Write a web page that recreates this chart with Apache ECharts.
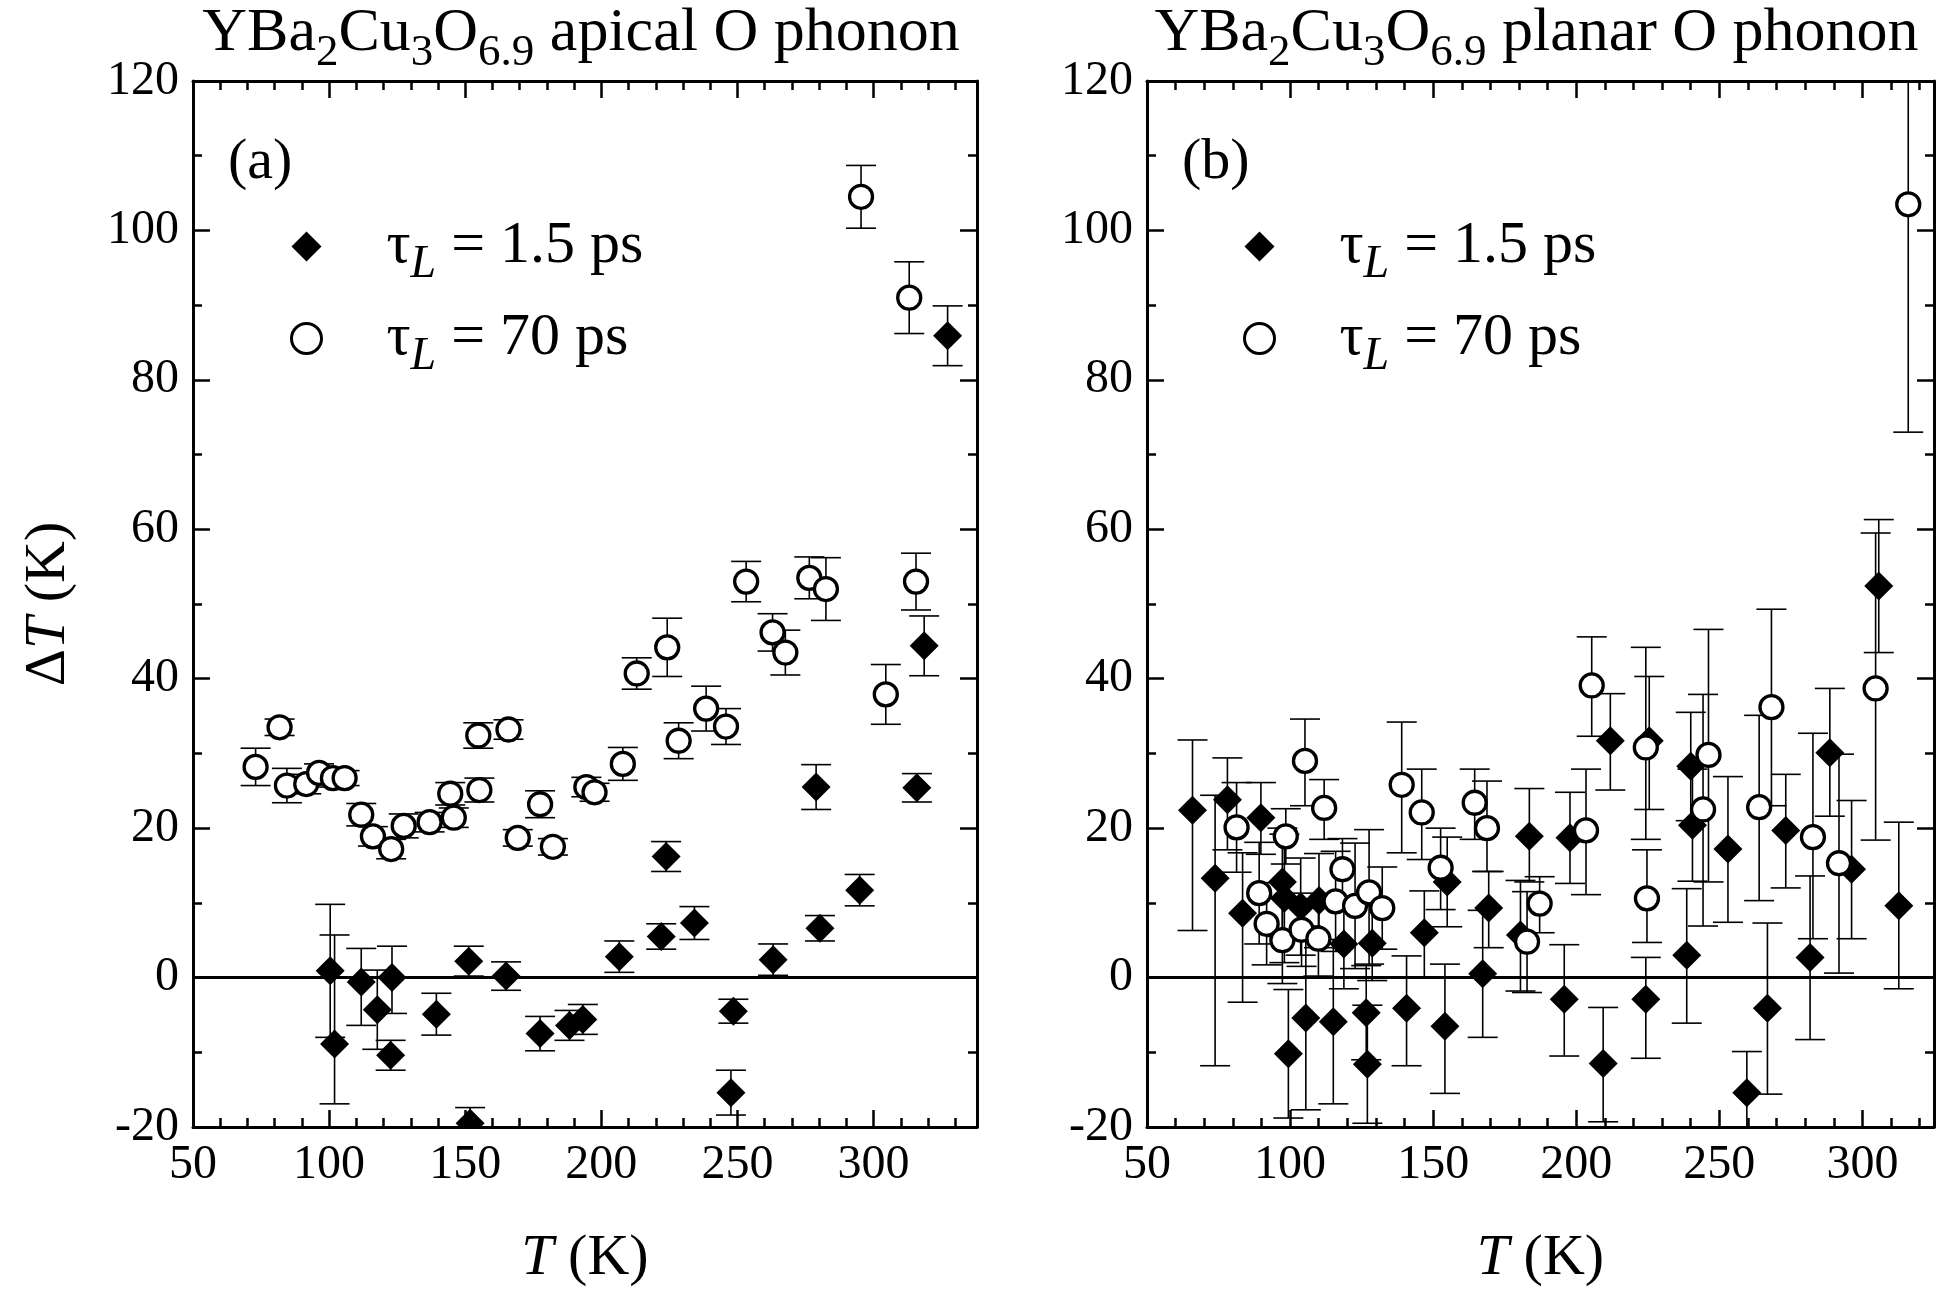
<!DOCTYPE html>
<html>
<head>
<meta charset="utf-8">
<title>YBa2Cu3O6.9 phonon temperature</title>
<script src="https://cdn.jsdelivr.net/npm/echarts@6/dist/echarts.min.js"></script>
<style>
  html, body { margin: 0; padding: 0; background: #fff; }
  #chart { width: 1937px; height: 1294px; }
</style>
</head>
<body>
<div id="chart"></div>
<script>
// rows: [T (K), ΔT (K), ΔT lower end of bar, ΔT upper end of bar]
const apicalShort = [
  [100.4, 0.9, -8.0, 9.8], [102.0, -8.9, -16.9, 5.7], [111.8, -0.6, -6.4, 3.9],
  [117.7, -4.3, -9.6, 1.0], [123.1, 0.0, -4.8, 4.2], [122.6, -10.4, -12.4, -8.4],
  [139.4, -4.9, -7.7, -2.1], [151.3, 2.2, 0.2, 4.2], [151.8, -19.5, -21.5, -17.4],
  [165.0, 0.2, -1.7, 2.1], [177.5, -7.5, -9.8, -5.2], [188.3, -6.4, -8.4, -4.4],
  [193.2, -5.6, -7.6, -3.6], [206.6, 2.8, 0.7, 4.9], [222.0, 5.5, 3.8, 7.2],
  [223.8, 16.2, 14.2, 18.2], [234.2, 7.3, 5.1, 9.5], [247.6, -15.4, -18.4, -12.4],
  [248.5, -4.5, -6.1, -2.9], [263.1, 2.4, 0.3, 4.5], [278.9, 25.5, 22.5, 28.5],
  [280.3, 6.6, 4.9, 8.3], [294.9, 11.7, 9.6, 13.8], [315.9, 25.4, 23.5, 27.3],
  [318.6, 44.4, 40.4, 48.4], [327.2, 85.9, 81.9, 89.9]
]

const apicalLong = [
  [73.0, 28.2, 25.7, 30.7], [81.8, 33.5, 32.4, 34.6], [84.5, 25.7, 23.4, 28.0],
  [91.6, 25.9, 24.6, 27.2], [96.3, 27.4, 26.2, 28.6], [101.4, 26.7, 25.5, 27.9],
  [105.7, 26.7, 25.7, 27.7], [111.8, 21.8, 20.3, 23.3], [116.1, 18.9, 17.6, 20.2],
  [122.8, 17.2, 15.9, 18.5], [127.4, 20.3, 18.7, 21.9], [136.9, 20.8, 19.5, 22.1],
  [144.5, 24.6, 23.1, 26.1], [145.8, 21.4, 20.1, 22.7], [154.8, 32.4, 30.7, 34.1],
  [155.2, 25.1, 23.5, 26.7], [165.9, 33.2, 31.9, 34.5], [169.3, 18.7, 17.6, 19.8],
  [177.5, 23.2, 21.4, 25.0], [182.2, 17.5, 16.4, 18.6], [194.5, 25.5, 24.2, 26.8],
  [197.5, 24.8, 23.6, 26.0], [207.9, 28.6, 26.4, 30.8], [213.0, 40.7, 38.6, 42.8],
  [224.2, 44.2, 40.3, 48.1], [228.4, 31.7, 29.3, 34.1], [238.5, 36.0, 33.0, 39.0],
  [245.8, 33.6, 31.2, 36.0], [253.2, 53.0, 50.3, 55.7], [262.9, 46.2, 43.7, 48.7],
  [267.6, 43.5, 40.5, 46.5], [276.4, 53.5, 50.7, 56.3], [282.5, 52.0, 47.8, 56.2],
  [295.4, 104.5, 100.3, 108.7], [304.5, 37.9, 33.9, 41.9], [313.1, 91.0, 86.2, 95.8],
  [315.6, 53.0, 49.2, 56.8]
]

const planarShort = [
  [65.9, 22.4, 6.3, 31.8], [73.8, 13.3, -11.8, 24.4], [78.1, 23.8, 17.1, 29.4],
  [83.4, 8.6, -3.3, 16.7], [89.8, 21.4, 16.5, 26.1], [97.3, 12.8, 5.5, 20.0],
  [98.0, 10.6, 2.0, 19.2], [99.4, -10.2, -18.8, -1.6], [103.7, 9.5, 3.0, 16.0],
  [105.5, -5.4, -17.7, 6.9], [110.1, 10.3, 4.0, 16.6], [115.1, -5.9, -16.9, 5.1],
  [118.8, 4.5, -1.5, 10.5], [126.6, -4.7, -11.0, 1.6], [127.0, -11.6, -19.5, -3.7],
  [128.7, 4.6, -0.4, 9.6], [140.7, -4.1, -11.8, 2.9], [146.9, 6.0, 0.1, 11.6],
  [154.1, -6.5, -15.5, 1.8], [154.9, 12.8, 6.8, 18.8], [167.3, 0.5, -8.0, 9.0],
  [169.4, 9.3, 4.0, 14.2], [180.5, 5.7, -1.8, 13.0], [183.6, 18.9, 12.8, 25.3],
  [195.8, -2.9, -10.5, 4.4], [197.8, 18.7, 12.6, 24.8], [209.4, -11.5, -19.3, -4.0],
  [211.9, 31.7, 25.1, 38.0], [224.3, -2.9, -10.8, 2.7], [225.5, 31.7, 22.5, 40.3],
  [238.6, 3.0, -6.1, 11.9], [240.0, 28.3, 21.0, 35.5], [240.6, 20.4, 12.9, 27.9],
  [253.0, 17.2, 7.4, 26.9], [259.6, -15.4, -20.9, -9.9], [266.8, -4.1, -15.6, 7.3],
  [273.2, 19.7, 12.0, 27.2], [281.7, 2.7, -8.3, 13.6], [288.6, 30.1, 21.6, 38.7],
  [296.2, 14.5, 5.2, 23.7], [305.7, 52.4, 43.5, 61.3], [312.7, 9.6, -1.5, 20.8]
]

const planarLong = [
  [81.3, 20.1, 14.1, 26.1], [89.2, 11.3, 4.5, 18.1], [91.8, 7.2, 1.7, 12.7],
  [97.3, 5.0, -0.8, 10.8], [98.5, 18.9, 15.2, 22.6], [104.0, 6.4, 1.5, 11.3],
  [105.2, 29.0, 23.0, 34.6], [109.9, 5.2, 0.2, 10.2], [111.9, 22.7, 18.5, 26.5],
  [115.9, 10.2, 3.5, 16.9], [118.3, 14.5, 10.4, 18.6], [122.7, 9.6, 1.2, 18.0],
  [127.6, 11.4, 1.8, 19.8], [132.2, 9.3, 3.8, 14.8], [139.0, 25.8, 16.7, 34.2],
  [146.0, 22.1, 15.8, 27.9], [152.6, 14.7, 9.1, 20.0], [164.5, 23.4, 18.5, 27.9],
  [168.8, 20.0, 14.2, 26.3], [182.8, 4.8, -2.0, 11.5], [187.2, 9.9, 6.0, 13.5],
  [203.4, 19.7, 11.1, 27.9], [205.4, 39.1, 32.3, 45.6], [224.3, 30.8, 18.5, 44.2],
  [224.7, 10.6, 4.7, 17.1], [244.3, 22.5, 6.9, 37.9], [246.2, 29.8, 12.8, 46.6],
  [263.9, 22.8, 10.3, 35.1], [268.2, 36.2, 23.0, 49.3], [282.7, 18.8, 5.2, 32.7],
  [291.8, 15.3, 0.6, 29.9], [304.6, 38.7, 18.4, 59.5], [316.0, 103.5, 73.0, 134.0]
]

const panelTitles = ['apical O phonon', 'planar O phonon']
const panelTags = ['(a)', '(b)']
const tMax = [338, 325]
const seriesNames = ['τL = 1.5 ps', 'τL = 70 ps']

const FONT = 'Liberation Serif'
const BLACK = '#000'

const chart = echarts.init(document.getElementById('chart'))

const grids = [
  { left: 193, top: 81, width: 784, height: 1048 },
  { left: 1147, top: 81, width: 787, height: 1048 }
]

const lineStyle = { color: BLACK, width: 3 }
const majorTick = { inside: true, length: 17, lineStyle: { color: BLACK, width: 2.5 } }
const minorTickStyle = { inside: true, length: 9, lineStyle: { color: BLACK, width: 2.5 } }

// order: bottom major, top major, then the two minor ones (echarts flips a used side)
function makeXAxes(gi) {
  const base = { gridIndex: gi, type: 'value', min: 50, max: tMax[gi], splitLine: { show: false } }
  const noLine = { show: false, onZero: false }
  return [
    {
      ...base, position: 'bottom', interval: 50,
      axisLine: { onZero: false, lineStyle }, axisTick: majorTick,
      axisLabel: { color: BLACK, fontFamily: FONT, fontSize: 48, margin: 14, showMaxLabel: false },
      name: '{i|T} (K)', nameLocation: 'middle', nameGap: 102,
      nameTextStyle: {
        color: BLACK, fontFamily: FONT, fontSize: 58, lineHeight: 60,
        rich: { i: { color: BLACK, fontFamily: FONT, fontSize: 58, fontStyle: 'italic', lineHeight: 60 } }
      }
    },
    { ...base, position: 'top', interval: 50, axisLine: { onZero: false, lineStyle }, axisTick: majorTick, axisLabel: { show: false } },
    { ...base, position: 'bottom', interval: 10, axisLine: noLine, axisTick: minorTickStyle, axisLabel: { show: false } },
    { ...base, position: 'top', interval: 10, axisLine: noLine, axisTick: minorTickStyle, axisLabel: { show: false } }
  ]
}

function makeYAxes(gi) {
  const base = {
    gridIndex: gi, type: 'value', min: -20, max: 120, interval: 20,
    splitLine: { show: false },
    axisLine: { onZero: false, lineStyle },
    axisTick: majorTick,
    minorTick: { show: true, splitNumber: 2, length: 9, lineStyle: { color: BLACK, width: 2.5 } }
  }
  const left = {
    ...base, position: 'left',
    axisLabel: { color: BLACK, fontFamily: FONT, fontSize: 48, margin: 14 }
  }
  if (gi === 0) {
    left.name = '{d|Δ}{i|T} (K)'
    left.nameLocation = 'middle'
    left.nameRotate = 90
    left.nameGap = 114
    left.nameTextStyle = {
      color: BLACK, fontFamily: FONT, fontSize: 58, lineHeight: 60,
      rich: {
        d: { color: BLACK, fontFamily: FONT, fontSize: 58, lineHeight: 60 },
        i: { color: BLACK, fontFamily: FONT, fontSize: 58, fontStyle: 'italic', lineHeight: 60 }
      }
    }
  }
  return [left, { ...base, position: 'right', axisLabel: { show: false } }]
}

function renderBars(params, api) {
  const x = api.value(0)
  const hi = api.coord([x, api.value(3)])
  const lo = api.coord([x, api.value(2)])
  const cap = 15
  const style = { stroke: BLACK, lineWidth: 1.6 }
  return {
    type: 'group',
    children: [
      { type: 'line', shape: { x1: hi[0], y1: hi[1], x2: lo[0], y2: lo[1] }, style },
      { type: 'line', shape: { x1: hi[0] - cap, y1: hi[1], x2: hi[0] + cap, y2: hi[1] }, style },
      { type: 'line', shape: { x1: lo[0] - cap, y1: lo[1], x2: lo[0] + cap, y2: lo[1] }, style }
    ]
  }
}

function renderDiamond(params, api) {
  const p = api.coord([api.value(0), api.value(1)])
  const h = 14.5
  return {
    type: 'polygon',
    shape: { points: [[p[0], p[1] - h], [p[0] + h, p[1]], [p[0], p[1] + h], [p[0] - h, p[1]]] },
    style: { fill: BLACK }
  }
}

function renderCircle(params, api) {
  const p = api.coord([api.value(0), api.value(1)])
  return {
    type: 'circle',
    shape: { cx: p[0], cy: p[1], r: 11.5 },
    style: { fill: '#fff', stroke: BLACK, lineWidth: 3.3 }
  }
}

function panelSeries(gi, shortData, longData) {
  const axes = { xAxisIndex: gi * 4, yAxisIndex: gi * 2 }
  const common = { type: 'custom', ...axes, clip: true, encode: { x: 0, y: 1 }, silent: true }
  return [
    {
      ...common, name: seriesNames[0], data: shortData, renderItem: renderBars, z: 2,
      itemStyle: { color: BLACK },
      markLine: {
        silent: true, symbol: ['none', 'none'], label: { show: false },
        lineStyle: { color: BLACK, width: 3, type: 'solid' },
        data: [{ yAxis: 0 }]
      }
    },
    { ...common, name: seriesNames[0], data: shortData, renderItem: renderDiamond, z: 3, itemStyle: { color: BLACK } },
    { ...common, name: seriesNames[1], data: longData, renderItem: renderBars, z: 4, itemStyle: { color: '#fff' } },
    { ...common, name: seriesNames[1], data: longData, renderItem: renderCircle, z: 5, itemStyle: { color: '#fff' } }
  ]
}

const legendRich = {
  t: { color: BLACK, fontFamily: FONT, fontSize: 60, lineHeight: 60 },
  l: { color: BLACK, fontFamily: FONT, fontSize: 46, fontStyle: 'italic', lineHeight: 60, padding: [37, 0, 0, 0] }
}

function makeLegend(gi) {
  return {
    orient: 'vertical',
    left: gi === 0 ? 290 : 1243,
    top: 205,
    padding: 0,
    itemWidth: 150,
    itemHeight: 30,
    itemGap: 9,
    selectedMode: false,
    data: [
      { name: seriesNames[0], icon: 'path://M0,-1L1,0L0,1L-1,0Z', itemStyle: { color: BLACK, borderWidth: 0 } },
      { name: seriesNames[1], icon: 'circle', itemStyle: { color: '#fff', borderColor: BLACK, borderWidth: 3 } }
    ],
    formatter: name => '{t|τ}{l|L}{t|' + name.slice(2) + '}',
    textStyle: { color: BLACK, fontFamily: FONT, fontSize: 60, rich: legendRich }
  }
}

const titleRich = {
  m: { fontFamily: FONT, fontSize: 62, lineHeight: 70, fill: BLACK },
  s: { fontFamily: FONT, fontSize: 45, lineHeight: 70, fill: BLACK, padding: [38, 0, 0, 0] }
}

const graphics = []
grids.forEach((g, gi) => {
  graphics.push({
    type: 'text', x: g.left + g.width / 2 - 4, y: 34,
    style: {
      text: '{m|YBa}{s|2}{m|Cu}{s|3}{m|O}{s|6.9}{m| ' + panelTitles[gi] + '}',
      rich: titleRich, align: 'center', verticalAlign: 'middle'
    }
  })
  graphics.push({
    type: 'text', x: g.left + 35, y: 163,
    style: { text: panelTags[gi], fontFamily: FONT, fontSize: 58, fill: BLACK, align: 'left', verticalAlign: 'middle' }
  })
})

const option = {
  animation: false,
  backgroundColor: '#fff',
  textStyle: { fontFamily: FONT, color: BLACK },
  grid: grids,
  xAxis: [...makeXAxes(0), ...makeXAxes(1)],
  yAxis: [...makeYAxes(0), ...makeYAxes(1)],
  legend: [makeLegend(0), makeLegend(1)],
  graphic: graphics,
  series: [...panelSeries(0, apicalShort, apicalLong), ...panelSeries(1, planarShort, planarLong)]
}

chart.setOption(option)
</script>
</body>
</html>
